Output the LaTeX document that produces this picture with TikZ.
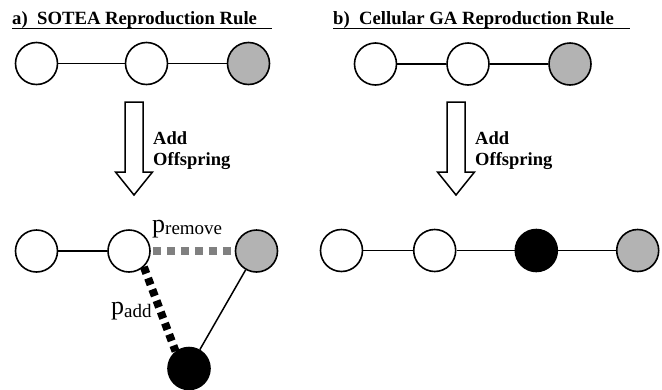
\documentclass[tikz,border=0pt]{standalone}
\usepackage{fontspec}
\setmainfont{Liberation Serif}
\definecolor{cellgray}{HTML}{B3B3B3}
\definecolor{dashgray}{HTML}{808080}
\begin{document}
\begin{tikzpicture}[x=1pt,y=-1pt,
  cell/.style={circle,draw=black,line width=1.6pt,minimum size=42pt,inner sep=0pt},
  plain/.style={cell,fill=white},
  grey/.style={cell,fill=cellgray},
  child/.style={cell,fill=black},
  link/.style={line width=1.5pt},
  title/.style={font=\fontsize{18.7}{22}\selectfont\bfseries,anchor=base west,inner sep=0pt},
  lbl/.style={font=\fontsize{18.5}{22}\selectfont\bfseries,anchor=north west,inner sep=0pt,align=left},
  prob/.style={inner sep=0pt,anchor=base west},
  bigarrow/.style={draw=black,line width=1.5pt,fill=white,line join=miter}
]
\useasboundingbox (0,0) rectangle (662,389);

% ---------- titles ----------
\node[title] (ta) at (12,24.5) {a)\ \ SOTEA Reproduction Rule};
\coordinate (tae) at (272,28.5);
\draw[line width=1.6pt] (ta.south west |- tae) -- (tae);
\node[title] (tb) at (333,24.5) {b)\ \ Cellular GA Reproduction Rule};
\coordinate (tbe) at (630,28.5);
\draw[line width=1.6pt] (tb.south west |- tbe) -- (tbe);

% ---------- panel a top ----------
\node[plain] (a1) at (36.5,63.5) {};
\node[plain] (a2) at (146.5,63.5) {};
\node[grey]  (a3) at (248.5,63.5) {};
\draw[link] (a1) -- (a2);
\draw[link] (a2) -- (a3);

% ---------- panel b top ----------
\node[plain] (b1) at (375.5,64) {};
\node[plain] (b2) at (468,64) {};
\node[grey]  (b3) at (570,64) {};
\draw[link] (b1) -- (b2);
\draw[link] (b2) -- (b3);

% ---------- block arrows ----------
\draw[bigarrow] (125,102) -- (143,102) -- (143,172) -- (152.5,172) -- (134,195)
  -- (115.5,172) -- (125,172) -- cycle;
\node[lbl] (la) at (153,131) {Add\\[-1pt]Offspring};
\draw[bigarrow] (447,102) -- (465,102) -- (465,172) -- (474.5,172) -- (456,195)
  -- (437.5,172) -- (447,172) -- cycle;
\node[lbl] (lb) at (475,131) {Add\\[-1pt]Offspring};

% ---------- panel a bottom ----------
\node[plain] (c1) at (36.5,251) {};
\node[plain] (c2) at (129,251) {};
\node[grey]  (c3) at (256.5,251) {};
\node[child] (c4) at (189,368.5) {};
\draw[link] (c1) -- (c2);
\draw[link] (c3) -- (c4);
\draw[dashgray,line width=7.5pt,dash pattern=on 8pt off 6pt] (c2.east) ++(2,0) -- (c3.west);
\draw[black,line width=8pt,dash pattern=on 7pt off 5pt] (c2.-47) -- (c4.128);
\node[prob] (pr) at (152,232) {\fontsize{26}{26}\selectfont p\raisebox{-2.5pt}{\fontsize{19}{19}\selectfont remove}};
\node[prob] (pa) at (111,314.5) {\fontsize{26}{26}\selectfont p\raisebox{-2.5pt}{\fontsize{19}{19}\selectfont add}};

% ---------- panel b bottom ----------
\node[plain] (d1) at (341.5,250.5) {};
\node[plain] (d2) at (434.7,250.5) {};
\node[child] (d3) at (536.3,250.5) {};
\node[grey]  (d4) at (637.7,250.5) {};
\draw[link] (d1) -- (d2);
\draw[link] (d2) -- (d3);
\draw[link] (d3) -- (d4);
\end{tikzpicture}
\end{document}
